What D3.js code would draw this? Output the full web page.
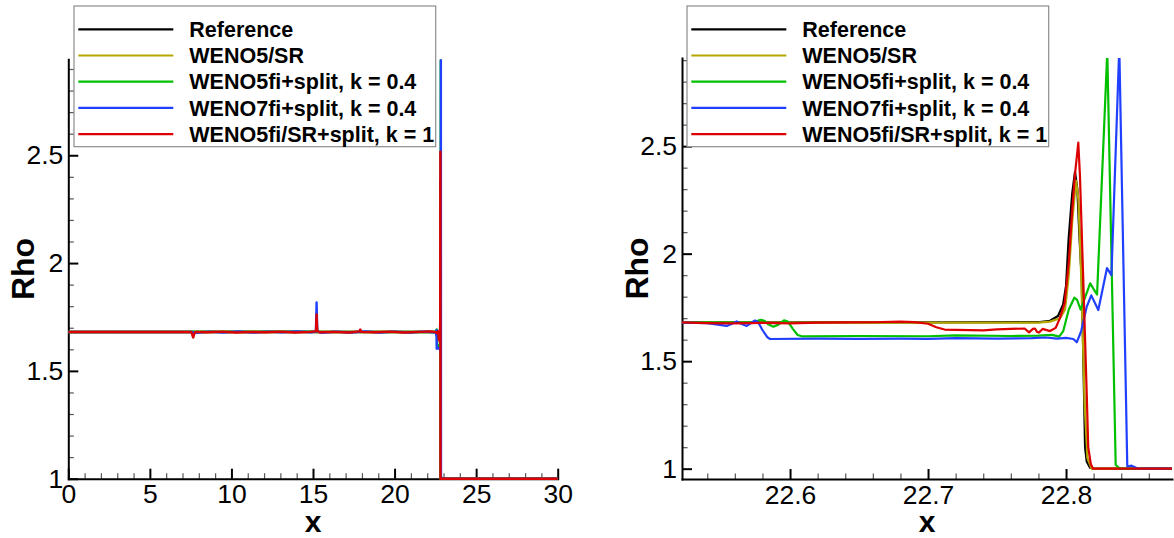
<!DOCTYPE html>
<html><head><meta charset="utf-8">
<script src="https://cdn.jsdelivr.net/npm/d3@7"></script>
<style>
body{margin:0;background:#fff;}
svg{display:block;font-family:"Liberation Sans",Arial,Helvetica,sans-serif;}
</style></head><body>
<svg id="chart" width="1174" height="538"></svg>
<script>
// ---------- data ----------
const seriesNames = ["Reference","WENO5/SR","WENO5fi+split, k = 0.4","WENO7fi+split, k = 0.4","WENO5fi/SR+split, k = 1"];
const seriesColors = ["#000000","#b4a800","#00c000","#2040ff","#dd0000"];

const xTicksLeft = [0,5,10,15,20,25,30];
const xTicksRight = [22.6,22.7,22.8];
const yTicks = [1,1.5,2,2.5];
const tailPoints = [[30,1.0]];

// whole-domain points (x < 22.52)
const refFar = [[0,1.680],[22.50,1.680]];
const oliveFar = [[0,1.680],[22.50,1.680]];
const greenFar = [[0,1.680],[15.19,1.682],[15.22,1.730],[15.26,1.681],[22.50,1.680]];
const blueFar = [[0,1.680],[7.6,1.680],[7.7,1.676],[8.6,1.682],[9.5,1.678],[10.4,1.683],[11.3,1.678],[12.2,1.682],[13.1,1.679],[14.0,1.683],[14.9,1.679],[15.18,1.683],[15.22,1.817],[15.26,1.684],[15.5,1.677],[16.4,1.682],[17.3,1.678],[18.2,1.683],[19.1,1.678],[20.0,1.682],[20.9,1.678],[21.8,1.682],[22.4,1.679]];
const redFar = [[0,1.680],[3,1.680],[7.55,1.680],[7.62,1.662],[7.66,1.655],[7.72,1.672],[7.8,1.681],[8.5,1.679],[9.4,1.682],[10.3,1.678],[11.2,1.681],[12.1,1.679],[13.0,1.682],[13.9,1.678],[14.8,1.681],[15.18,1.683],[15.22,1.762],[15.26,1.686],[15.4,1.679],[16.3,1.681],[17.2,1.678],[17.85,1.683],[17.9,1.692],[17.95,1.681],[18.8,1.679],[19.7,1.682],[20.6,1.678],[21.5,1.681],[22.2,1.683]];

// shock-region points (22.52 .. 22.877)
const refNear = [[22.5217,1.680],[22.700,1.680],[22.781,1.682],[22.7884,1.688],[22.7942,1.710],[22.7979,1.764],[22.8000,1.850],[22.8019,2.070],[22.8045,2.280],[22.8065,2.380],[22.8082,2.300],[22.8098,2.070],[22.8114,1.880],[22.8138,1.100],[22.8150,1.033],[22.8174,1.005],[22.8200,1.000],[22.8768,1.000]];
const oliveNear = [[22.5217,1.680],[22.700,1.679],[22.780,1.679],[22.7884,1.684],[22.7956,1.700],[22.7993,1.740],[22.8020,1.900],[22.8045,2.150],[22.8072,2.340],[22.8090,2.250],[22.8110,1.900],[22.8135,1.300],[22.8155,1.050],[22.8185,1.000],[22.8768,1.000]];
const greenNear = [[22.5217,1.680],[22.570,1.679],[22.5755,1.685],[22.5787,1.692],[22.5815,1.688],[22.5845,1.670],[22.5879,1.660],[22.5915,1.670],[22.5956,1.690],[22.5985,1.684],[22.6020,1.650],[22.6055,1.622],[22.6090,1.615],[22.650,1.617],[22.700,1.616],[22.720,1.620],[22.760,1.617],[22.780,1.619],[22.7900,1.622],[22.7950,1.614],[22.7980,1.640],[22.8020,1.740],[22.8060,1.795],[22.8080,1.785],[22.8106,1.740],[22.8140,1.800],[22.8175,1.862],[22.8200,1.835],[22.8225,1.810],[22.8299,2.940],[22.8360,1.017],[22.8391,1.000],[22.8768,1.000]];
const blueNear = [[22.5217,1.679],[22.540,1.677],[22.5541,1.664],[22.5580,1.674],[22.5613,1.685],[22.5650,1.673],[22.5686,1.664],[22.5720,1.678],[22.5746,1.689],[22.5770,1.680],[22.5800,1.645],[22.5835,1.612],[22.5855,1.603],[22.620,1.605],[22.650,1.604],[22.680,1.605],[22.700,1.604],[22.720,1.607],[22.750,1.605],[22.775,1.607],[22.7855,1.610],[22.7935,1.605],[22.8000,1.608],[22.8053,1.603],[22.8078,1.588],[22.8110,1.640],[22.8150,1.753],[22.8183,1.806],[22.8234,1.738],[22.8297,1.933],[22.8329,1.900],[22.8386,2.960],[22.8444,1.010],[22.8475,1.014],[22.8523,1.000],[22.8768,1.000]];
const redNear = [[22.5217,1.680],[22.540,1.677],[22.560,1.676],[22.580,1.678],[22.600,1.676],[22.620,1.679],[22.640,1.680],[22.660,1.681],[22.680,1.684],[22.690,1.682],[22.700,1.674],[22.706,1.658],[22.712,1.647],[22.720,1.646],[22.730,1.644],[22.740,1.643],[22.750,1.648],[22.760,1.650],[22.770,1.652],[22.7732,1.634],[22.7760,1.650],[22.7775,1.652],[22.7790,1.636],[22.7804,1.633],[22.7830,1.650],[22.7884,1.640],[22.7925,1.655],[22.7956,1.700],[22.7990,1.770],[22.8020,1.960],[22.8045,2.200],[22.8065,2.370],[22.8089,2.516],[22.8101,2.360],[22.8125,1.877],[22.8150,1.350],[22.8161,1.100],[22.8180,1.020],[22.8197,1.000],[22.8768,1.000]];

const farData = [refFar, oliveFar, greenFar, blueFar, redFar];
const nearData = [refNear, oliveNear, greenNear, blueNear, redNear];

// ---------- drawing ----------
const svg = d3.select("#chart");

const panels = [
  {
    x: d3.scaleLinear([0,30],[68.3,557.7]),
    y: d3.scaleLinear([1,2.945],[478.7,59.3]),
    xMajor: xTicksLeft,
    xMinor: d3.range(0,31).filter(v => v % 5 !== 0),
    lines: farData.map((f,i) => f.concat(nearData[i], tailPoints)),
    legendX: 74, rhoX: 34, lw: 2.4, id: "L"
  },
  {
    x: d3.scaleLinear([22.5217,22.8768],[682,1172]),
    y: d3.scaleLinear([0.952,2.91],[479,58]),
    xMajor: xTicksRight,
    xMinor: d3.range(2254,2288,2).filter(v => v % 10 !== 0).map(v => v/100),
    lines: nearData,
    legendX: 687, rhoX: 647.5, lw: 2.2, id: "R"
  }
];
const yMinor = d3.range(10,30).filter(v => v % 5 !== 0).map(v => v/10);
const tickFont = 26.5;

panels.forEach(p => {
  const g = svg.append("g");
  const [x0,x1] = p.x.range();
  const [yb,yt] = p.y.range();

  const styleMinor = s => { s.select(".domain").remove(); s.selectAll("line").attr("stroke","#555").attr("stroke-width",1.2); };
  const styleMajor = s => {
    s.select(".domain").attr("stroke","#000").attr("stroke-width",2).attr("stroke-linecap","square");
    s.selectAll("line").attr("stroke","#000").attr("stroke-width",2);
    s.selectAll("text").attr("font-size",tickFont).attr("font-family","'Liberation Sans',Arial,sans-serif").attr("fill","#000");
  };

  // minor ticks
  g.append("g").attr("transform",`translate(0,${yb})`)
    .call(d3.axisBottom(p.x).tickValues(p.xMinor).tickSize(-5.5).tickSizeOuter(0).tickFormat(""))
    .call(styleMinor);
  g.append("g").attr("transform",`translate(${x0},0)`)
    .call(d3.axisLeft(p.y).tickValues(yMinor).tickSize(-5.5).tickSizeOuter(0).tickFormat(""))
    .call(styleMinor);
  // major axes
  g.append("g").attr("transform",`translate(0,${yb})`)
    .call(d3.axisBottom(p.x).tickValues(p.xMajor).tickSize(-10).tickSizeOuter(0).tickPadding(5.8).tickFormat(d => String(d)))
    .call(styleMajor);
  g.append("g").attr("transform",`translate(${x0},0)`)
    .call(d3.axisLeft(p.y).tickValues(yTicks).tickSize(-10).tickSizeOuter(0).tickPadding(5).tickFormat(d => String(d)))
    .call(styleMajor);

  // clip
  svg.append("clipPath").attr("id","clip"+p.id).append("rect")
    .attr("x",x0).attr("y",yt).attr("width",x1-x0+3).attr("height",yb-yt+3);

  const line = d3.line().x(d => p.x(d[0])).y(d => p.y(d[1]));
  g.append("g").attr("clip-path",`url(#clip${p.id})`)
    .selectAll("path").data(p.lines).join("path")
    .attr("d", line).attr("fill","none")
    .attr("stroke",(d,i) => seriesColors[i]).attr("stroke-width",p.lw)
    .attr("stroke-linejoin","round");

  // axis titles
  g.append("text").attr("x",(x0+x1)/2).attr("y",531.5).attr("text-anchor","middle")
    .attr("font-size",30).attr("font-weight","bold").text("x");
  g.append("text").attr("transform",`translate(${p.rhoX},${(yb+yt)/2}) rotate(-90)`)
    .attr("text-anchor","middle").attr("font-size",32).attr("font-weight","bold").text("Rho");

  // legend
  const lg = g.append("g").attr("transform",`translate(${p.legendX},6)`);
  lg.append("rect").attr("x",0).attr("y",0).attr("width",361.7).attr("height",140.7)
    .attr("fill","#fff").attr("stroke","#8c8c8c").attr("stroke-width",1.2);
  seriesNames.forEach((name,i) => {
    const yy = 23.3 + i*26.2;
    lg.append("line").attr("x1",4.3).attr("x2",99.3).attr("y1",yy).attr("y2",yy)
      .attr("stroke",seriesColors[i]).attr("stroke-width",2.2);
    lg.append("text").attr("x",115.3).attr("y",yy+7.6).attr("font-size",21.5).attr("font-weight","bold").text(name);
  });
});
</script>
</body></html>
